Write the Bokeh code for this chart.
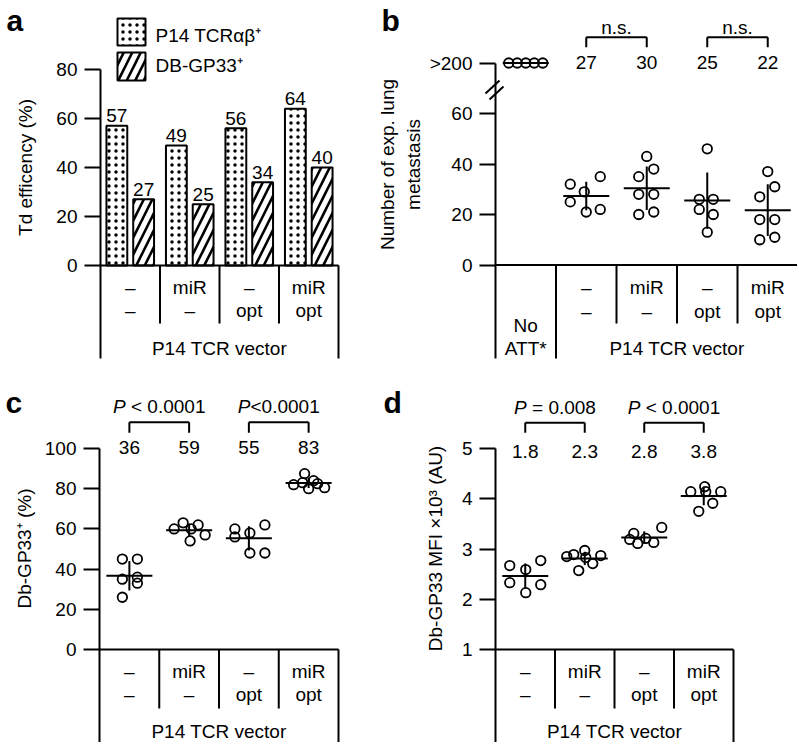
import numpy as np
from bokeh.plotting import figure
from bokeh.models import Range1d, FixedTicker, Label
from bokeh.layouts import row, column
from bokeh.embed import file_html
from bokeh.resources import INLINE
from bokeh.core.properties import value

FONT = "Liberation Sans"
FS = "19px"
FPX = 19

# ------------------------------------------------------------------ data
row1_labels = ["–", "miR", "–", "miR"]
row2_labels = ["–", "–", "opt", "opt"]
vector_label = "P14 TCR vector"

# panel a : transduction efficiency (%)
td_p14 = [57, 49, 56, 64]
td_db = [27, 25, 34, 40]
legend_labels = ["P14 TCRαβ⁺", "DB-GP33⁺"]
a_ticks = [0, 20, 40, 60, 80]
a_ylabel = "Td efficency (%)"

# panel b : number of lung metastases
b_noatt = [80, 80, 80, 80, 80]          # all ">200", shown at the break level
b_noatt_swarm = [-17, -8.5, 0, 8.5, 17]
b_groups = [[35, 32, 29, 25, 22, 21],
            [43, 38, 35, 28, 28, 20, 21],
            [46, 26, 26, 22, 20, 13],
            [37, 31, 27, 18, 18, 10, 11]]
b_swarm = [[14, -16, -2, -16, 14, 0],
           [0, 7, -8, -8, 7, -8, 7],
           [0, -8, 6, -8, 6, 0],
           [0, 7, -8, -8, 7, -8, 7]]
b_mean_labels = ["27", "30", "25", "22"]
b_ticks = [0, 20, 40, 60, 80]
b_tick_labels = {80: ">200"}
b_sig = ["n.s.", "n.s."]
b_noatt_label = ["No", "ATT*"]
b_ylabel = ["Number of exp. lung", "metastasis"]

# panel c : Db-GP33+ (%)
c_groups = [[45, 45, 35, 36, 33, 26],
            [60, 63, 62, 60, 57, 54],
            [60, 56, 58, 62, 48, 48],
            [87.5, 82, 83, 84, 80, 82.5, 80.5]]
c_swarm = [[-7, 8, -7, 8, 8, -7],
           [-15, -6, 9, 2, 16, 1],
           [-14, -14, 1, 16, 1, 16],
           [-4, -15, -6, 5, 0, 9, 16]]
c_mean_labels = ["36", "59", "55", "83"]
c_pvalues = ["P < 0.0001", "P<0.0001"]
c_ticks = [0, 20, 40, 60, 80, 100]
c_ylabel = "Db-GP33⁺ (%)"

# panel d : Db-GP33 MFI x10^3 (AU)
d_groups = [[2.67, 2.59, 2.77, 2.33, 2.29, 2.13],
            [2.85, 2.89, 2.97, 2.83, 2.87, 2.71, 2.57],
            [3.19, 3.31, 3.11, 3.21, 3.13, 3.43],
            [4.14, 4.24, 4.14, 4.14, 3.91, 3.75]]
d_swarm = [[-15.5, 0.5, 15.5, -15.5, 15.5, 0.5],
           [-18, -11, 0, 1, 16, 8, -6],
           [-14.5, -10.5, -6.5, 1.5, 9.5, 17.5],
           [-13, 1, 2, 17, 9, -5]]
d_mean_labels = ["1.8", "2.3", "2.8", "3.8"]
d_pvalues = ["P = 0.008", "P < 0.0001"]
d_ticks = [1, 2, 3, 4, 5]
d_ylabel = "Db-GP33 MFI ×10³ (AU)"

# ------------------------------------------------------------------ helpers
CW = {"0": .556, "1": .556, "2": .556, "3": .556, "4": .556, "5": .556, "6": .556,
      "7": .556, "8": .556, "9": .556, " ": .278, "<": .584, "=": .584, ".": .278, "P": .667}
MID = 0.3465 * FPX   # em-box middle above the alphabetic baseline


def twidth(s, px=FPX):
    return sum(CW.get(ch, .556) for ch in s) * px


class Panel:
    def __init__(self, left, top, width, height, axis_px, col_px, base_py, base_val, k):
        self.axis_px, self.col, self.base_py, self.base_val, self.k = axis_px, col_px, base_py, base_val, k
        p = figure(width=width, height=height, title=None,
                   x_range=Range1d(self.X(left), self.X(left + width)),
                   y_range=Range1d(self.Y(top + height), self.Y(top)),
                   output_backend="svg", toolbar_location=None, x_axis_location=None,
                   min_border_left=0, min_border_right=0,
                   min_border_top=0, min_border_bottom=0)
        p.grid.visible = False
        p.outline_line_color = None
        p.background_fill_color = "white"
        p.border_fill_color = "white"
        self.p = p

    def X(self, px):
        return (px - self.axis_px) / self.col

    def Y(self, py):
        return self.base_val + (self.base_py - py) / self.k

    def axis(self, ticks, bottom_py, overrides=None):
        ax = self.p.yaxis[0]
        ax.fixed_location = 0
        ax.ticker = FixedTicker(ticks=ticks)
        ax.bounds = (self.Y(bottom_py), ticks[-1])
        ax.axis_line_width = 2
        ax.axis_line_color = "black"
        ax.major_tick_line_width = 2
        ax.major_tick_line_color = "black"
        ax.major_tick_out = 16
        ax.major_tick_in = 0
        ax.minor_tick_line_color = None
        ax.major_label_standoff = 7
        ax.major_label_text_font = FONT
        ax.major_label_text_font_size = FS
        ax.major_label_text_color = "black"
        if overrides:
            ax.major_label_overrides = overrides

    def text(self, xs, ys, texts, size=FS, align="center", style="normal"):
        self.p.text(x=xs, y=ys, text=texts, text_font=value(FONT), text_font_size=value(size),
                    text_font_style=value(style), text_align=align, text_baseline="middle",
                    text_color="black")

    def seg(self, x0, y0, x1, y1, w=2):
        self.p.segment(x0=x0, y0=y0, x1=x1, y1=y1, line_color="black", line_width=w)

    def label(self, px, py, text, size=FS, angle=0.0, bold=False, align="center"):
        self.p.add_layout(Label(x=self.X(px), y=self.Y(py), text=text, angle=angle,
                                text_font=FONT, text_font_size=size,
                                text_font_style="bold" if bold else "normal",
                                text_align=align, text_baseline="middle", text_color="black"))

    def swarm(self, centers, groups, offsets, half_px=23):
        xs, ys = [], []
        for c, vals, offs in zip(centers, groups, offsets):
            for v, o in zip(vals, offs):
                xs.append(c + o / self.col)
                ys.append(v)
        self.p.scatter(x=xs, y=ys, marker="circle", size=9.5, fill_color=None,
                       line_color="black", line_width=1.8)
        means = [float(np.mean(g)) for g in groups]
        sds = [float(np.std(g, ddof=1)) if len(set(g)) > 1 else 0.0 for g in groups]
        hw = half_px / self.col
        self.seg([c - hw for c in centers], means, [c + hw for c in centers], means)
        vc = [c for c, s in zip(centers, sds) if s > 0]
        vm = [(m, s) for m, s in zip(means, sds) if s > 0]
        if vc:
            self.seg(vc, [m - s for m, s in vm], vc, [m + s for m, s in vm])

    def brackets(self, centers, y_py, leg_py):
        yb, yl = self.Y(y_py), self.Y(leg_py)
        for i in (0, 2):
            a, b = centers[i], centers[i + 1]
            self.seg([a, a, b], [yb, yl, yl], [b, a, b], [yb, yb, yb])

    def pvalues(self, centers, texts, py):
        for i, t in zip((0, 2), texts):
            xc = (centers[i] + centers[i + 1]) / 2
            pw = twidth("P")
            tot = twidth(t)
            split = xc + (-tot / 2 + pw) / self.col
            rest = t[1:]
            lead = len(rest) - len(rest.lstrip(" "))
            self.text([split], [self.Y(py)], [t[0]], align="right", style="italic")
            self.text([split + twidth(" " * lead) / self.col], [self.Y(py)], [rest.lstrip(" ")],
                      align="left")


n = 4
cent4 = [i + 0.5 for i in range(n)]
DOT = dict(hatch_pattern="dot", hatch_scale=7, hatch_weight=1.0, hatch_color="black")
DIAG = dict(hatch_pattern="right_diagonal_line", hatch_scale=17, hatch_weight=2.6,
            hatch_color="black")

# ------------------------------------------------------------------ panel a
A = Panel(0, 0, 372, 385, 100, 59.5, 265, 0, 2.45)
A.axis(a_ticks, 358)
pa = A.p
xl = [c - 0.225 for c in cent4]
xr = [c + 0.225 for c in cent4]
pa.vbar(x=xl, top=td_p14, bottom=0, width=0.35, fill_color="white", line_color="black",
        line_width=2, **DOT)
pa.vbar(x=xr, top=td_db, bottom=0, width=0.35, fill_color="white", line_color="black",
        line_width=2, **DIAG)
lift = (3.5 + MID) / A.k
A.text(xl, [v + lift for v in td_p14], [str(v) for v in td_p14])
A.text(xr, [v + lift for v in td_db], [str(v) for v in td_db])
# legend
pa.quad(left=[A.X(117)], right=[A.X(145)], top=[A.Y(18)], bottom=[A.Y(45)], fill_color="white",
        line_color="black", line_width=2, **DOT)
pa.quad(left=[A.X(117)], right=[A.X(145)], top=[A.Y(52)], bottom=[A.Y(80)], fill_color="white",
        line_color="black", line_width=2, **DIAG)
A.text([A.X(155)] * 2, [A.Y(35), A.Y(65)], legend_labels, align="left")
# x axis + table
A.seg([0], [0], [n], [0])
A.seg([1, 2, 3], [0] * 3, [1, 2, 3], [A.Y(323)] * 3)
A.seg([n], [0], [n], [A.Y(358)])
A.text(cent4, [A.Y(286.7)] * n, row1_labels)
A.text(cent4, [A.Y(310.2)] * n, row2_labels)
A.text([n / 2], [A.Y(348.3)], [vector_label])
A.label(25, 167, a_ylabel, angle=np.pi / 2)
A.label(6, 30 - 0.3465 * 30, "a", size="30px", bold=True, align="left")

# ------------------------------------------------------------------ panel b
B = Panel(372, 0, 425, 385, 495, 60.5, 264.5, 0, 2.525)
B.axis(b_ticks, 358, b_tick_labels)
bc = [i + 1.5 for i in range(n)]
B.swarm([0.5], [b_noatt], [b_noatt_swarm])
B.swarm(bc, b_groups, b_swarm)
B.text(bc, [B.Y(62)] * n, b_mean_labels)
B.brackets(bc, 36.7, 46.7)
B.text([(bc[0] + bc[1]) / 2, (bc[2] + bc[3]) / 2], [B.Y(33.5 - MID)] * 2, b_sig)
B.seg([B.X(485), B.X(489)], [B.Y(93), B.Y(99)], [B.X(499), B.X(503)], [B.Y(80), B.Y(86)])
B.seg([0], [0], [n + 1.2], [0])
B.seg([1, n + 1], [0, 0], [1, n + 1], [B.Y(358)] * 2)
B.seg([2, 3, 4], [0] * 3, [2, 3, 4], [B.Y(323)] * 3)
B.text(bc, [B.Y(286.7)] * n, row1_labels)
B.text(bc, [B.Y(310.5)] * n, row2_labels)
B.text([0.5, 0.5], [B.Y(324.5), B.Y(347.5)], b_noatt_label)
B.text([1 + n / 2], [B.Y(347.5)], [vector_label])
B.label(387, 164, b_ylabel[0], angle=np.pi / 2)
B.label(413, 164, b_ylabel[1], angle=np.pi / 2)
B.label(381, 30 - 0.3465 * 30, "b", size="30px", bold=True, align="left")

# ------------------------------------------------------------------ panel c
C = Panel(0, 385, 372, 357, 99, 59.75, 649, 0, 2.01)
C.axis(c_ticks, 760)
C.swarm(cent4, c_groups, c_swarm)
C.text(cent4, [C.Y(447)] * n, c_mean_labels)
C.brackets(cent4, 421.7, 432.3)
C.pvalues(cent4, c_pvalues, 406)
C.seg([0], [0], [n], [0])
C.seg([1, 2, 3], [0] * 3, [1, 2, 3], [C.Y(708)] * 3)
C.seg([n], [0], [n], [C.Y(760)])
C.text(cent4, [C.Y(671)] * n, row1_labels)
C.text(cent4, [C.Y(694)] * n, row2_labels)
C.text([n / 2], [C.Y(731)], [vector_label])
C.label(24, 548, c_ylabel, angle=np.pi / 2)
C.label(5, 412 - 0.3465 * 30, "c", size="30px", bold=True, align="left")

# ------------------------------------------------------------------ panel d
D = Panel(372, 385, 425, 357, 495, 59.5, 649, 1, 50.25)
D.axis(d_ticks, 760)
D.swarm(cent4, d_groups, d_swarm)
D.text(cent4, [D.Y(451)] * n, d_mean_labels)
D.brackets(cent4, 422.3, 432.3)
D.pvalues(cent4, d_pvalues, 406.5)
D.seg([0], [1], [n], [1])
D.seg([1, 2, 3], [1] * 3, [1, 2, 3], [D.Y(708)] * 3)
D.seg([n], [1], [n], [D.Y(760)])
D.text(cent4, [D.Y(671)] * n, row1_labels)
D.text(cent4, [D.Y(694)] * n, row2_labels)
D.text([n / 2], [D.Y(731)], [vector_label])
D.label(435, 548, d_ylabel, angle=np.pi / 2)
D.label(383, 412 - 0.3465 * 30, "d", size="30px", bold=True, align="left")

layout = column(row(A.p, B.p), row(C.p, D.p))
open("out.html", "w").write(file_html(layout, INLINE))
